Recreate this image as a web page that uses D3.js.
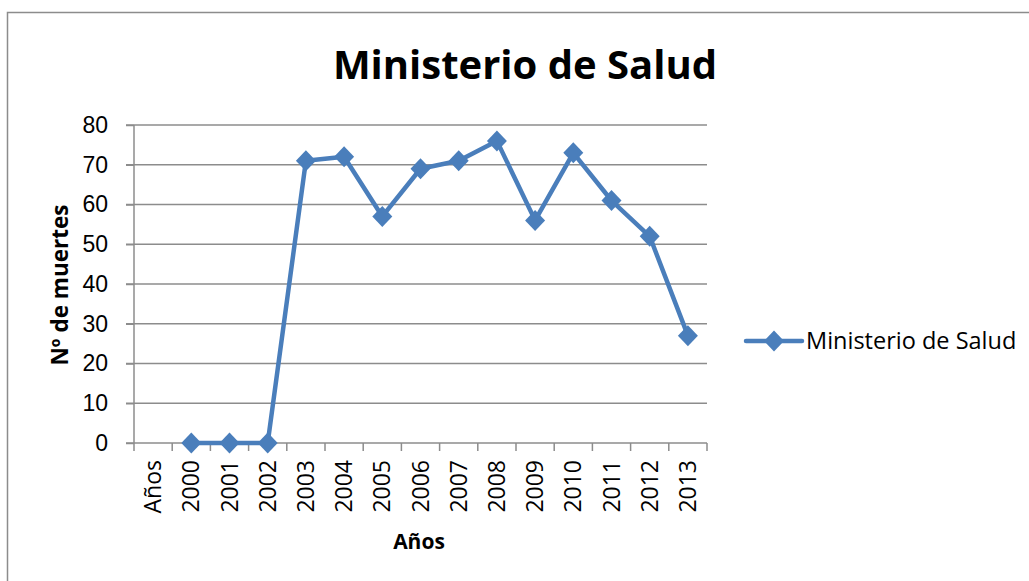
<!DOCTYPE html>
<html lang="es">
<head>
<meta charset="UTF-8">
<title>Ministerio de Salud</title>
<script src="https://d3js.org/d3.v7.min.js"></script>
<style>
    body { margin: 0; background: white; }
    svg { display: block; font-family: "Open Sans", "Noto Sans", sans-serif; }
    .grid line { stroke: #8c8c8c; stroke-width: 1.5px; }
    .axis path, .axis line { stroke: #8c8c8c; stroke-width: 1.5px; }
    .axis text { fill: #000; font-size: 23px; }
    .series { fill: none; stroke: #4a7ebb; stroke-width: 4.5px; stroke-linejoin: round; }
    .marker { fill: #4a7ebb; }
</style>
</head>
<body>
<svg id="chart" width="1029" height="581"></svg>
<script>
    const width = 1029;
    const height = 581;

    const categories = ["Años", "2000", "2001", "2002", "2003", "2004", "2005", "2006",
                        "2007", "2008", "2009", "2010", "2011", "2012", "2013"];
    const years = ["2000", "2001", "2002", "2003", "2004", "2005", "2006",
                   "2007", "2008", "2009", "2010", "2011", "2012", "2013"];
    const deaths = [0, 0, 0, 71, 72, 57, 69, 71, 76, 56, 73, 61, 52, 27];
    const yTicks = [0, 10, 20, 30, 40, 50, 60, 70, 80];
    const seriesName = "Ministerio de Salud";

    const svg = d3.select("#chart");
    const plot = { left: 134, right: 707, top: 125, bottom: 443 };

    // chart border (only top and left edges are visible in the frame)
    svg.append("rect")
      .attr("x", 7.5).attr("y", 12.5)
      .attr("width", width + 10).attr("height", height + 10)
      .attr("fill", "none").attr("stroke", "#8c8c8c").attr("stroke-width", 1.5);

    const x = d3.scaleBand().domain(categories).range([plot.left, plot.right]);
    const y = d3.scaleLinear().domain([0, 80]).range([plot.bottom, plot.top]);

    // gridlines
    svg.append("g").attr("class", "grid")
      .selectAll("line").data(yTicks.filter(d => d > 0)).enter()
      .append("line")
      .attr("x1", plot.left - 8).attr("x2", plot.right)
      .attr("y1", d => y(d)).attr("y2", d => y(d));

    // y axis
    const yAxis = svg.append("g").attr("class", "axis")
      .attr("transform", `translate(${plot.left},0)`)
      .call(d3.axisLeft(y).tickValues(yTicks).tickSize(8).tickPadding(18).tickSizeOuter(0));
    yAxis.select(".domain").attr("d", `M0,${plot.top}V${plot.bottom}`);

    // x axis, ticks at category boundaries
    const xAxis = svg.append("g").attr("class", "axis")
      .attr("transform", `translate(0,${plot.bottom})`);
    xAxis.append("line")
      .attr("x1", plot.left - 8).attr("x2", plot.right);
    xAxis.selectAll(".tick").data(categories.concat([null])).enter()
      .append("line").attr("class", "tick")
      .attr("x1", (d, i) => plot.left + i * x.step())
      .attr("x2", (d, i) => plot.left + i * x.step())
      .attr("y1", 0).attr("y2", 8);
    xAxis.selectAll("text").data(categories).enter()
      .append("text")
      .attr("transform", d => `translate(${x(d) + x.bandwidth() / 2 + 8},17) rotate(-90)`)
      .attr("text-anchor", "end")
      .text(d => d);

    // series line
    const line = d3.line()
      .x((d, i) => x(years[i]) + x.bandwidth() / 2)
      .y(d => y(d));
    svg.append("path").datum(deaths).attr("class", "series").attr("d", line);

    const diamond = "M0,-10.5L10,0L0,10.5L-10,0Z";
    svg.selectAll(".marker").data(deaths).enter()
      .append("path").attr("class", "marker")
      .attr("transform", (d, i) => `translate(${x(years[i]) + x.bandwidth() / 2},${y(d)})`)
      .attr("d", diamond);

    // title
    svg.append("text")
      .attr("x", 525).attr("y", 79)
      .attr("text-anchor", "middle")
      .attr("font-size", 40).attr("font-weight", "bold")
      .text(seriesName);

    // axis titles
    svg.append("text")
      .attr("transform", "translate(68,285) rotate(-90)")
      .attr("text-anchor", "middle")
      .attr("font-size", 22.5).attr("font-weight", "bold")
      .text("Nº de muertes");
    svg.append("text")
      .attr("x", 419).attr("y", 549)
      .attr("text-anchor", "middle")
      .attr("font-size", 21).attr("font-weight", "bold")
      .text("Años");

    // legend
    const legend = svg.append("g").attr("transform", "translate(746,341)");
    legend.append("line")
      .attr("x1", 0).attr("x2", 56)
      .attr("stroke", "#4a7ebb").attr("stroke-width", 4.5).attr("stroke-linecap", "round");
    legend.append("path").attr("class", "marker")
      .attr("transform", "translate(28,0)").attr("d", diamond);
    legend.append("text")
      .attr("x", 60).attr("y", 8)
      .attr("font-size", 23.5)
      .text(seriesName);
</script>
</body>
</html>
